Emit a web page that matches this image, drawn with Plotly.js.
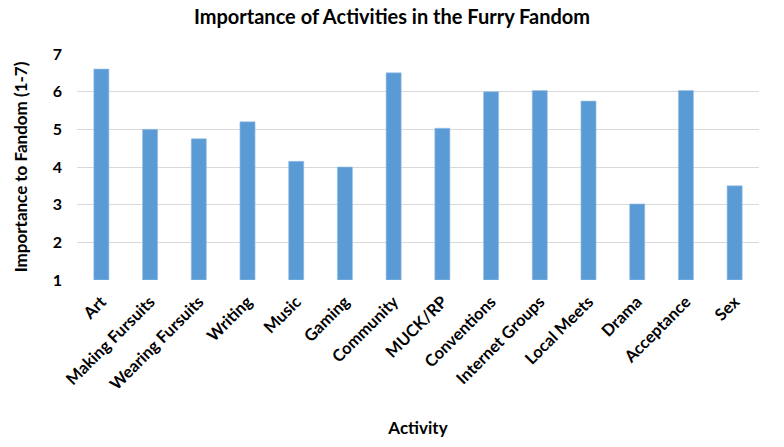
<!DOCTYPE html>
<html>
<head>
<meta charset="utf-8">
<script src="https://cdn.plot.ly/plotly-3.0.1.min.js"></script>
<style>html,body{margin:0;padding:0;background:#fff;}#chart{width:784px;height:447px;}</style>
</head>
<body>
<div id="chart"></div>
<script>
var categories = ["Art","Making Fursuits","Wearing Fursuits","Writing","Music","Gaming","Community","MUCK/RP","Conventions","Internet Groups","Local Meets","Drama","Acceptance","Sex"];
var importance = [6.6, 5.0, 4.75, 5.2, 4.15, 4.0, 6.5, 5.03, 6.0, 6.03, 5.75, 3.02, 6.03, 3.5];
var yTicks = [1, 2, 3, 4, 5, 6, 7];

var trace = {
  type: "bar",
  x: categories,
  y: importance.map(function(v){ return v - 1; }),
  base: 1,
  marker: {color: "#5b9bd5", line: {color: "#9cc3e6", width: 0.6}},
  hoverinfo: "x+y"
};

var font = "Lato, 'Open Sans', sans-serif";
var layout = {
  width: 784, height: 447,
  margin: {l: 77, r: 25, t: 54, b: 167},
  paper_bgcolor: "#fff", plot_bgcolor: "#fff",
  font: {family: font, color: "#000"},
  showlegend: false,
  bargap: 0.69,
  title: {text: "<b>Importance of Activities in the Furry Fandom</b>", font: {size: 20, family: font, color: "#000"}, x: 0.5, xanchor: "center", y: 0.962, yanchor: "middle"},
  xaxis: {
    type: "category",
    tickangle: -45,
    tickfont: {size: 16.5, family: font, color: "#000", weight: "bold"},
    showgrid: false,
    showline: false,
    ticks: "",
    automargin: false,
    ticklabelstandoff: 8,
    title: {text: "<b>Activity</b>", font: {size: 17, family: font, color: "#000"}, standoff: 29}
  },
  yaxis: {
    range: [1, 7],
    tickvals: yTicks,
    ticktext: yTicks.map(String),
    tickfont: {size: 16, family: font, color: "#000", weight: "bold"},
    gridcolor: "#d9d9d9",
    gridwidth: 1,
    zeroline: false,
    showline: false,
    ticks: "",
    automargin: false,
    ticklabelstandoff: 14,
    title: {text: "<b>Importance to Fandom (1-7)</b>", font: {size: 17, family: font, color: "#000"}, standoff: 20}
  }
};
Plotly.newPlot("chart", [trace], layout, {displayModeBar: false, staticPlot: true});
</script>
</body>
</html>
